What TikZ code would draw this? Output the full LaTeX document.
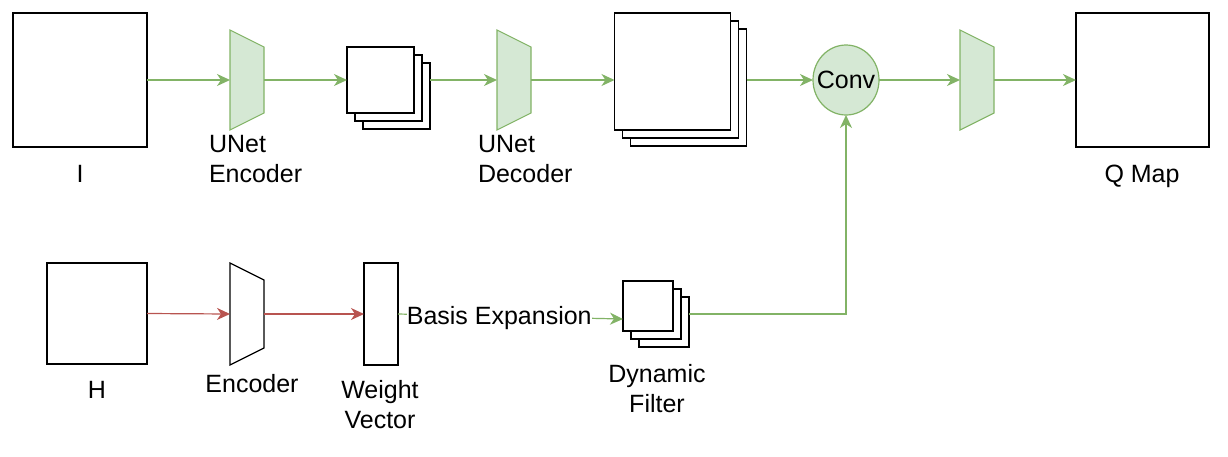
\documentclass[tikz,border=0pt]{standalone}
\usepackage{fontspec}
\setmainfont{Liberation Sans}
\usetikzlibrary{arrows.meta,shapes.geometric,calc}
\definecolor{gstroke}{HTML}{82B366}
\definecolor{gfill}{HTML}{D5E8D4}
\definecolor{rstroke}{HTML}{B85450}
\tikzset{
  box/.style={draw=black, line width=1.7pt, fill=white, inner sep=0pt, outer sep=0pt},
  trapbox/.style={inner sep=0pt, outer sep=0pt, minimum width=34pt},
  gtrap/.style={draw=gstroke, fill=gfill, line width=1.1pt, line join=miter},
  wtrap/.style={draw=black, fill=white, line width=1.2pt, line join=miter},
  tip/.style={-{Stealth[length=13pt,width=12pt,inset=4pt]}},
  garrow/.style={draw=gstroke, line width=1.4pt, tip},
  gline/.style={draw=gstroke, line width=1.2pt},
  rarrow/.style={draw=rstroke, line width=1.2pt, tip},
  lbl/.style={inner sep=0pt, outer sep=0pt, font=\fontsize{25}{30}\selectfont},
  convnode/.style={ellipse, draw=gstroke, fill=gfill, line width=1.2pt, minimum width=66pt, minimum height=70pt, inner sep=0pt, outer sep=0pt}
}
\begin{document}
\begin{tikzpicture}[x=1pt,y=-1pt]
\useasboundingbox (0,0) rectangle (1228,456);
% ---------- top row ----------
\node[box, minimum width=134pt, minimum height=134pt] (boxI) at (80,80) {};
\node[lbl, anchor=base] (lblI) at (80,182) {I};

\node[trapbox, minimum height=100pt] (encU) at (247,80) {};
\draw[gtrap] (encU.north west) -- ($(encU.north east)+(0,17)$) -- ($(encU.south east)+(0,-17)$) -- (encU.south west) -- cycle;
\node[lbl, anchor=north west, align=left] (lblEncU) at (209,135) {UNet\\Encoder};

\node[box, minimum width=67pt, minimum height=66pt] (s1c) at (396.5,96) {};
\node[box, minimum width=67pt, minimum height=66pt] (s1b) at (388.5,88) {};
\node[box, minimum width=67pt, minimum height=66pt] (s1a) at (380.5,80) {};

\node[trapbox, minimum height=100pt] (decU) at (514,80) {};
\draw[gtrap] (decU.north west) -- ($(decU.north east)+(0,17)$) -- ($(decU.south east)+(0,-17)$) -- (decU.south west) -- cycle;
\node[lbl, anchor=north west, align=left] (lblDecU) at (478,135) {UNet\\Decoder};

\node[box, minimum width=116pt, minimum height=117pt] (bsc) at (688.5,87.5) {};
\node[box, minimum width=116pt, minimum height=117pt] (bsb) at (680.5,79.5) {};
\node[box, minimum width=116pt, minimum height=117pt] (bsa) at (672.5,71.5) {};

\node[convnode] (conv) at (846,80) {};
\node[lbl] (lblConv) at (conv.center) {Conv};

\node[trapbox, minimum height=100pt] (trap3) at (977,80) {};
\draw[gtrap] (trap3.north west) -- ($(trap3.north east)+(0,17)$) -- ($(trap3.south east)+(0,-17)$) -- (trap3.south west) -- cycle;

\node[box, minimum width=133pt, minimum height=134pt] (qmap) at (1142.5,80) {};
\node[lbl, anchor=base] (lblQ) at (1142,182) {Q Map};

\draw[garrow] (boxI.east) -- (encU.west);
\draw[garrow] (encU.east) -- (s1a.west);
\draw[garrow] (s1c.east |- s1a.west) -- (decU.west);
\draw[garrow] (decU.east) -- (decU.east -| bsa.west);
\draw[garrow] (bsc.east |- conv.west) -- (conv.west);
\draw[garrow] (conv.east) -- (trap3.west);
\draw[garrow] (trap3.east) -- (qmap.west);

% ---------- bottom row ----------
\node[box, minimum width=100pt, minimum height=101pt] (boxH) at (97,313.5) {};
\node[lbl, anchor=base] (lblH) at (97,398) {H};

\node[trapbox, minimum height=102pt] (encB) at (247,314) {};
\draw[wtrap] (encB.north west) -- ($(encB.north east)+(0,17)$) -- ($(encB.south east)+(0,-17)$) -- (encB.south west) -- cycle;
\node[lbl, anchor=base] (lblEncB) at (252,392) {Encoder};

\node[box, minimum width=34pt, minimum height=102pt] (wv) at (381,314) {};
\node[lbl, anchor=north, align=center] (lblWV) at (380,380) {Weight\\Vector};

\node[box, minimum width=50pt, minimum height=50pt] (dfc) at (664,322) {};
\node[box, minimum width=50pt, minimum height=50pt] (dfb) at (656,314) {};
\node[box, minimum width=50pt, minimum height=50pt] (dfa) at (648,306) {};
\node[lbl, anchor=north, align=center] (lblDF) at (657,364) {Dynamic\\Filter};

\draw[rarrow] (boxH.east) -- (encB.west);
\draw[rarrow] (encB.east) -- (wv.west);
\draw[gline, tip] (wv.east) -- node[lbl, pos=0.45, fill=white, yshift=-2pt] (lblBE) {Basis Expansion} ($(dfa.west)+(0,13)$);
\draw[garrow] (dfc.east |- wv.east) -| (conv.south);
\end{tikzpicture}
\end{document}
